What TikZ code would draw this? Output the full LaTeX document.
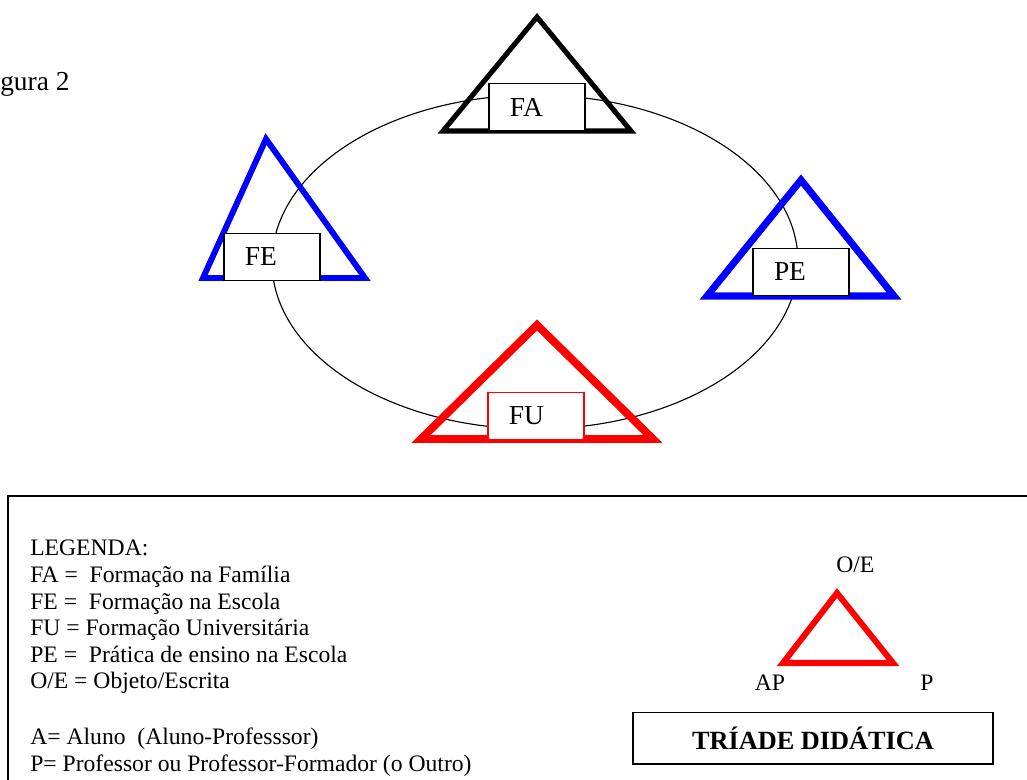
\documentclass[tikz,border=0pt]{standalone}
\usepackage{fontspec}
\setmainfont{Liberation Serif}
\usepackage{tikz}
\newcommand{\fonte}{\fontsize{16.8pt}{19.5pt}\selectfont}
\newcommand{\fontegr}{\fontsize{19.5pt}{22pt}\selectfont}

\begin{document}
\begin{tikzpicture}[x=0.025cm,y=-0.025cm,
    every node/.style={font=\fonte},
    caixa/.style={draw,fill=white,line width=1pt,rectangle,minimum height=1.175cm,
        text width=1.35cm,inner xsep=0.525cm,inner ysep=0pt,align=left,font=\fontegr},
    texto/.style={anchor=base west,inner sep=0pt}]

            \useasboundingbox (0,0) rectangle (1027,779);
            \clip (0,0) rectangle (1027,779);

            % titulo
            \node[texto,font=\fontegr] (fig) at (0,90) {gura 2};

            % elipse
            \coordinate (c) at (535,262);
            \draw[line width=0.8pt] (c) ellipse [x radius=263, y radius=167];

            % triangulos
            \coordinate (fa1) at (537,17);
            \coordinate (fa2) at (443,131);
            \coordinate (fa3) at (631,131);
            \coordinate (fe1) at (266,139);
            \coordinate (fe2) at (203,278);
            \coordinate (fe3) at (365,278);
            \coordinate (pe1) at (801,180);
            \coordinate (pe2) at (707,296);
            \coordinate (pe3) at (894,296);
            \coordinate (fu1) at (537,325);
            \coordinate (fu2) at (421,439);
            \coordinate (fu3) at (653,439);

            \draw[line width=3.6pt] (fa1)--(fa2)--(fa3)--cycle;
            \draw[blue,line width=4.2pt] (fe1)--(fe2)--(fe3)--cycle;
            \draw[blue,line width=5pt] (pe1)--(pe2)--(pe3)--cycle;
            \draw[red,line width=5.6pt] (fu1)--(fu2)--(fu3)--cycle;

            % caixas
            \node[caixa] (fa) at (537,107) {FA};
            \node[caixa] (fe) at (272,257) {FE};
            \node[caixa] (pe) at (801,272) {PE};
            \node[caixa,draw=red,line width=0.9pt] (fu) at (536,416) {FU};

            % legenda
            \draw[line width=1.4pt] (8,496) rectangle (1040,800);
            \node[texto] (l0) at (30,555) {LEGENDA:};
            \node[texto] (l1) at (30,582) {FA =\ \ Formação na Família};
            \node[texto] (l2) at (30,609) {FE =\ \ Formação na Escola};
            \node[texto] (l3) at (30,635) {FU = Formação Universitária};
            \node[texto] (l4) at (30,662) {PE =\ \ Prática de ensino na Escola};
            \node[texto] (l5) at (30,688) {O/E = Objeto/Escrita};
            \node[texto] (l6) at (30,744) {A= Aluno\ \ (Aluno-Professsor)};
            \node[texto] (l7) at (30,771) {P= Professor ou Professor-Formador (o Outro)};

            % triade
            \coordinate (t1) at (837,593);
            \coordinate (t2) at (783,663);
            \coordinate (t3) at (893,663);
            \draw[red,line width=4.3pt] (t1)--(t2)--(t3)--cycle;
            \node[texto] (oe) at (836,572) {O/E};
            \node (ap) at (770,683) {AP};
            \node (p) at (927,683) {P};

            \node[draw,line width=1.4pt,minimum width=9cm,minimum height=1.275cm,
                font=\fontsize{18.7pt}{22pt}\selectfont\bfseries] (triade) at (813,738) {TRÍADE DIDÁTICA};

        \end{tikzpicture}
\end{document}
